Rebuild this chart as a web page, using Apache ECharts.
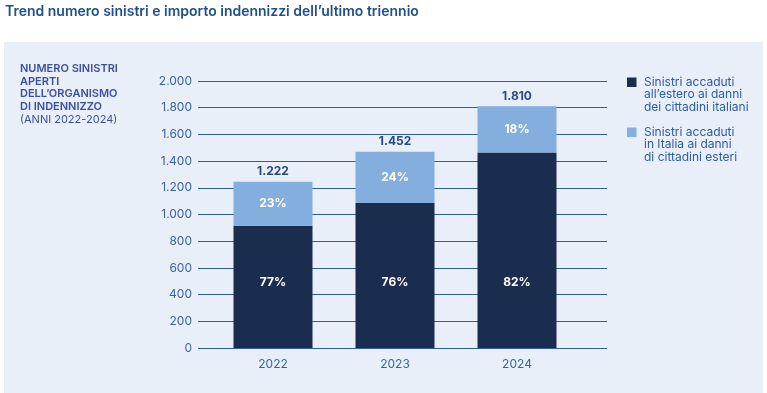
<!DOCTYPE html>
<html><head><meta charset="utf-8">
<script src="https://cdn.jsdelivr.net/npm/echarts@6/dist/echarts.min.js"></script>
<style>html,body{margin:0;padding:0;background:#fff}#c{width:767px;height:393px}</style>
</head><body><div id="c"></div>
<script>
const categories = ['2022', '2023', '2024'];
const abroadValues = [916, 1086, 1465];
const italyValues = [330, 384, 345];
const totals = [1222, 1452, 1810];
const abroadPct = ['77%', '76%', '82%'];
const italyPct = ['23%', '24%', '18%'];
const seriesNames = ['Sinistri accaduti\nall\u2019estero ai danni\ndei cittadini italiani', 'Sinistri accaduti\nin Italia ai danni\ndi cittadini esteri'];
const seriesColors = ['#1b2d4f', '#84aedd'];

const fmt = v => String(v).replace(/\B(?=(\d{3})+(?!\d))/g, '.');
const F = 'Inter, "Noto Sans", sans-serif';
const legendGraphics = [];
seriesNames.forEach((n, i) => {
  const y0 = 77.5 + i * 50;
  legendGraphics.push({ type: 'rect', shape: { x: 627, y: y0, width: 9.5, height: 9.5 }, style: { fill: seriesColors[i] } });
  legendGraphics.push({ type: 'text', x: 644, y: y0 - 1.5, style: { text: n, fill: '#2f5aa8', font: '12px ' + F, lineHeight: 12.5 } });
});
const chart = echarts.init(document.getElementById('c'));
chart.setOption({
  animation: false,
  textStyle: { fontFamily: F },
  graphic: [
    { type: 'rect', z: -10, shape: { x: 4, y: 42, width: 759, height: 351 }, style: { fill: '#e8eff9' } },
    { type: 'text', left: 5, top: 5, style: { text: 'Trend numero sinistri e importo indennizzi dell\u2019ultimo triennio', font: '600 14px ' + F, fill: '#1f4f8f' } },
    { type: 'text', left: 20, top: 63, style: {
      text: '{b|NUMERO SINISTRI}\n{b|APERTI}\n{b|DELL\u2019ORGANISMO}\n{b|DI INDENNIZZO}\n{n|(ANNI 2022-2024)}',
      rich: {
        b: { fontFamily: F, fontSize: 11, fontWeight: 600, fill: '#3d4fa3', lineHeight: 12.7 },
        n: { fontFamily: F, fontSize: 11, fontWeight: 400, fill: '#3d4fa3', lineHeight: 12.7 }
      } } }
  ].concat(legendGraphics),
  grid: [
    { left: 198, right: 160, top: 81, bottom: 45 },
    { left: 212, right: 189, top: 81, bottom: 45 }
  ],
  xAxis: [
    { gridIndex: 0, type: 'category', data: categories, show: false },
    { gridIndex: 1, type: 'category', data: categories, axisLine: { show: false }, axisTick: { show: false },
      axisLabel: { color: '#3a63a6', fontSize: 12, margin: 10, fontFamily: F } }
  ],
  yAxis: [
    { gridIndex: 0, type: 'value', min: 0, max: 2000, interval: 200,
      axisLine: { show: false }, axisTick: { show: false },
      splitLine: { lineStyle: { color: '#2d5ca8', width: 1 } },
      axisLabel: { color: '#3a63a6', fontSize: 12, margin: 6, fontFamily: F, formatter: v => fmt(v) } },
    { gridIndex: 1, type: 'value', min: 0, max: 2000, interval: 200, show: false, splitLine: { show: false } }
  ],
  series: [
    { name: seriesNames[0], type: 'bar', stack: 's', xAxisIndex: 1, yAxisIndex: 1, barWidth: 79,
      itemStyle: { color: seriesColors[0] }, data: abroadValues,
      label: { show: true, position: 'insideBottom', distance: 60, color: '#fff', fontWeight: 700, fontSize: 12, fontFamily: F,
        formatter: p => abroadPct[p.dataIndex] } },
    { name: seriesNames[1], type: 'bar', stack: 's', xAxisIndex: 1, yAxisIndex: 1, barWidth: 79,
      itemStyle: { color: seriesColors[1] }, data: italyValues,
      label: { show: true, position: 'inside', color: '#fff', fontWeight: 700, fontSize: 12, fontFamily: F,
        formatter: p => italyPct[p.dataIndex] } },
    { type: 'bar', stack: 's', xAxisIndex: 1, yAxisIndex: 1, barWidth: 79, data: [0, 0, 0], silent: true,
      itemStyle: { color: 'transparent' },
      label: { show: true, position: 'top', distance: 4, color: '#2b4a80', fontWeight: 700, fontSize: 12, fontFamily: F,
        formatter: p => fmt(totals[p.dataIndex]) } }
  ]
});
</script></body></html>
